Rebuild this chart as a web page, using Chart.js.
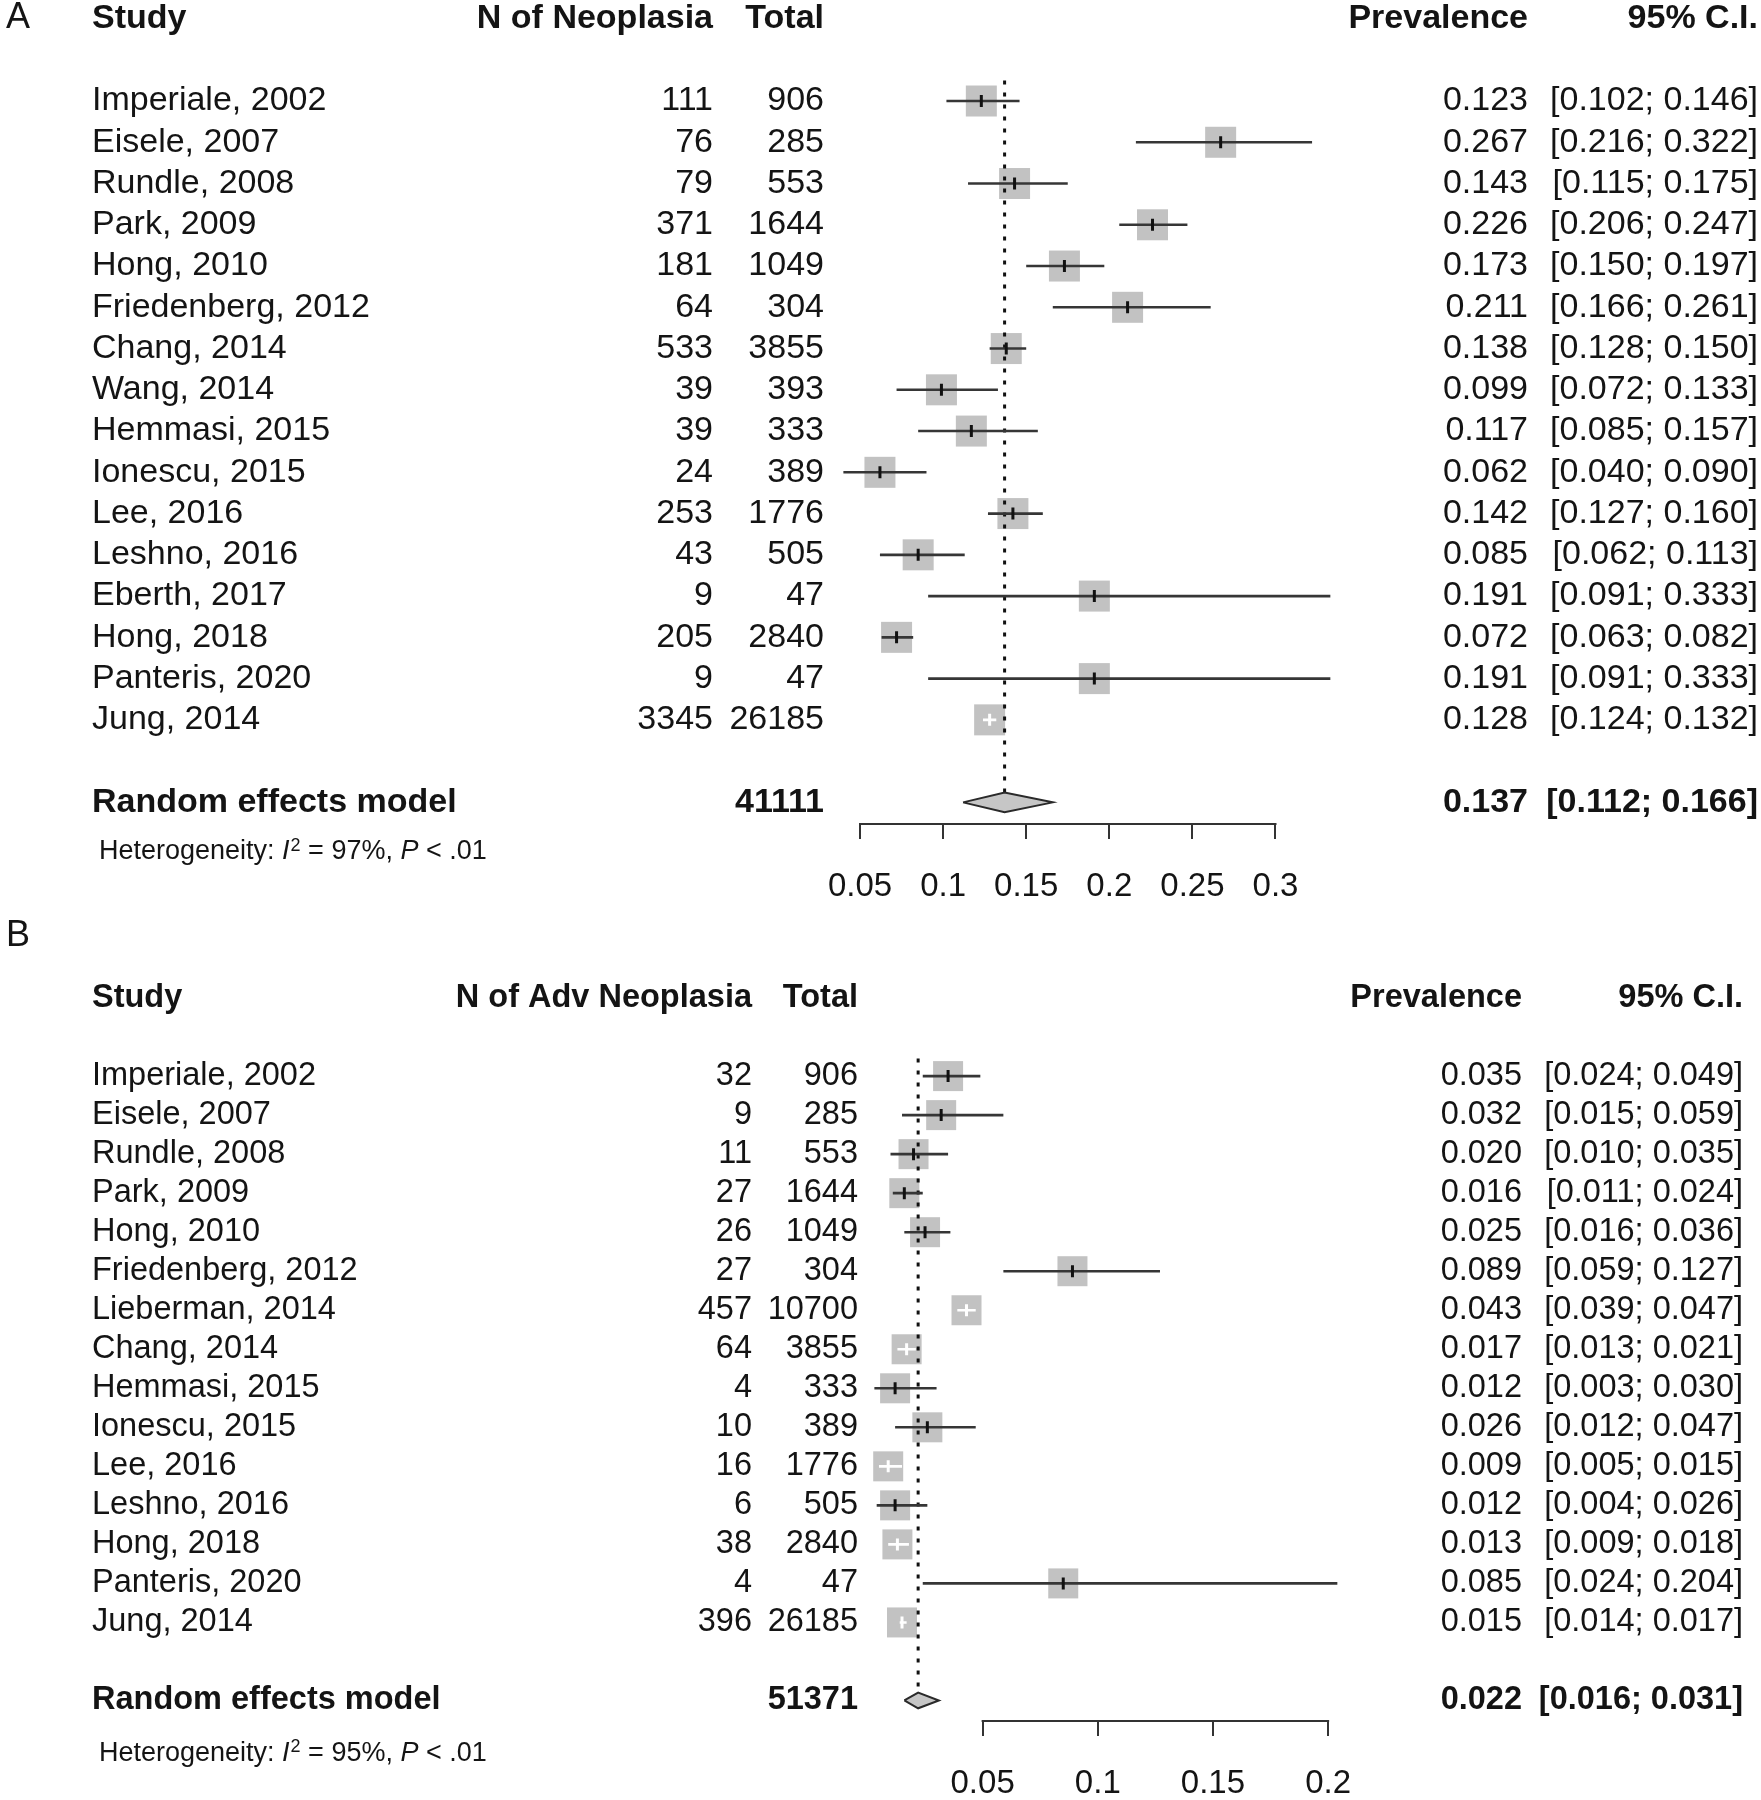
<!DOCTYPE html>
<html>
<head>
<meta charset="utf-8">
<script src="https://cdn.jsdelivr.net/npm/chart.js@4.4.1/dist/chart.umd.min.js"></script>
<style>
  body { margin: 0; background: #fff; }
  canvas { display: block; }
</style>
</head>
<body>
<canvas id="panel-a" width="1761" height="920"></canvas>
<canvas id="panel-b" width="1761" height="880"></canvas>
<script>
// Panel A - any neoplasia
const studiesA = ['Imperiale, 2002', 'Eisele, 2007', 'Rundle, 2008', 'Park, 2009', 'Hong, 2010',
  'Friedenberg, 2012', 'Chang, 2014', 'Wang, 2014', 'Hemmasi, 2015', 'Ionescu, 2015', 'Lee, 2016',
  'Leshno, 2016', 'Eberth, 2017', 'Hong, 2018', 'Panteris, 2020', 'Jung, 2014'];
const eventsA = [111, 76, 79, 371, 181, 64, 533, 39, 39, 24, 253, 43, 9, 205, 9, 3345];
const totalsA = [906, 285, 553, 1644, 1049, 304, 3855, 393, 333, 389, 1776, 505, 47, 2840, 47, 26185];
const prevA = [0.123, 0.267, 0.143, 0.226, 0.173, 0.211, 0.138, 0.099, 0.117, 0.062, 0.142, 0.085, 0.191, 0.072, 0.191, 0.128];
const lowerA = [0.102, 0.216, 0.115, 0.206, 0.150, 0.166, 0.128, 0.072, 0.085, 0.040, 0.127, 0.062, 0.091, 0.063, 0.091, 0.124];
const upperA = [0.146, 0.322, 0.175, 0.247, 0.197, 0.261, 0.150, 0.133, 0.157, 0.090, 0.160, 0.113, 0.333, 0.082, 0.333, 0.132];
const pooledA = [0.137, 0.112, 0.166]; // estimate, lower, upper
const pooledTotalA = 41111;
const i2A = 97;
const ticksA = [0.05, 0.1, 0.15, 0.2, 0.25, 0.3];

// Panel B - advanced neoplasia
const studiesB = ['Imperiale, 2002', 'Eisele, 2007', 'Rundle, 2008', 'Park, 2009', 'Hong, 2010',
  'Friedenberg, 2012', 'Lieberman, 2014', 'Chang, 2014', 'Hemmasi, 2015', 'Ionescu, 2015', 'Lee, 2016',
  'Leshno, 2016', 'Hong, 2018', 'Panteris, 2020', 'Jung, 2014'];
const eventsB = [32, 9, 11, 27, 26, 27, 457, 64, 4, 10, 16, 6, 38, 4, 396];
const totalsB = [906, 285, 553, 1644, 1049, 304, 10700, 3855, 333, 389, 1776, 505, 2840, 47, 26185];
const prevB = [0.035, 0.032, 0.020, 0.016, 0.025, 0.089, 0.043, 0.017, 0.012, 0.026, 0.009, 0.012, 0.013, 0.085, 0.015];
const lowerB = [0.024, 0.015, 0.010, 0.011, 0.016, 0.059, 0.039, 0.013, 0.003, 0.012, 0.005, 0.004, 0.009, 0.024, 0.014];
const upperB = [0.049, 0.059, 0.035, 0.024, 0.036, 0.127, 0.047, 0.021, 0.030, 0.047, 0.015, 0.026, 0.018, 0.204, 0.017];
const pooledB = [0.022, 0.016, 0.031];
const pooledTotalB = 51371;
const i2B = 95;
const ticksB = [0.05, 0.1, 0.15, 0.2];

const FONT = '"Liberation Sans", Arial, Helvetica, sans-serif';
const INK = '#141414';

function drawHet(ctx, x, y, pct) {
  const f = 27;
  ctx.textAlign = 'left';
  ctx.textBaseline = 'middle';
  const put = (txt, font, dy) => {
    ctx.font = font;
    ctx.fillText(txt, x, y + (dy || 0));
    x += ctx.measureText(txt).width;
  };
  put('Heterogeneity: ', `${f}px ${FONT}`);
  put('I', `italic ${f}px ${FONT}`);
  x += 1;
  put('2', `${Math.round(f * 0.68)}px ${FONT}`, -f * 0.22);
  put(' = ' + pct + '%, ', `${f}px ${FONT}`);
  put('P', `italic ${f}px ${FONT}`);
  put(' < .01', `${f}px ${FONT}`);
}

function forestChart(id, p) {
  const rows = p.studies.map((s, i) => i + 1);
  const half = p.box / 2;
  // meta draws the CI in white when it fits inside the box
  const inBox = (chart, i) => {
    const x = chart.scales.x;
    const c = x.getPixelForValue(p.prev[i]);
    return x.getPixelForValue(p.lo[i]) >= c - half && x.getPixelForValue(p.hi[i]) <= c + half;
  };

  const ciSets = p.studies.map((s, i) => ({
    type: 'line',
    data: [{ x: p.lo[i], y: rows[i] }, { x: p.hi[i], y: rows[i] }],
    borderColor: ctx => inBox(ctx.chart, i) ? '#ffffff' : '#363636',
    borderWidth: 2.6,
    pointRadius: 0,
    order: 3
  }));

  const [est, plo, phi] = p.pooled;
  const r = p.pooledRow;
  const datasets = [
    {
      type: 'scatter',
      data: p.prev.map((v, i) => ({ x: v, y: rows[i] })),
      pointStyle: 'rect',
      pointRadius: p.box / (2 * Math.SQRT1_2),
      backgroundColor: '#c2c2c2',
      borderWidth: 0,
      clip: false,
      order: 5
    },
    {
      type: 'line',
      data: [{ x: est, y: p.refTop }, { x: est, y: r - p.dh }],
      borderColor: '#111',
      borderWidth: 3,
      borderDash: [4, 8],
      pointRadius: 0,
      order: 4
    },
    ...ciSets,
    {
      type: 'line',
      data: [{ x: plo, y: r }, { x: est, y: r - p.dh }, { x: phi, y: r }, { x: est, y: r + p.dh }, { x: plo, y: r }],
      fill: 'shape',
      backgroundColor: '#c6c6c6',
      borderColor: '#2a2a2a',
      borderWidth: 2,
      pointRadius: 0,
      tension: 0,
      order: 2
    },
    {
      type: 'scatter',
      data: p.prev.map((v, i) => ({ x: v, y: rows[i] })),
      pointStyle: 'line',
      rotation: 90,
      pointRadius: 6,
      borderWidth: 3,
      pointBorderColor: ctx => inBox(ctx.chart, ctx.dataIndex) ? '#ffffff' : '#111111',
      order: 1
    }
  ];

  const textPlugin = {
    id: 'forestText',
    afterDraw(chart) {
      const ctx = chart.ctx;
      const y = chart.scales.y;
      const x = chart.scales.x;
      ctx.save();
      // axis line only between first and last tick
      ctx.strokeStyle = '#333';
      ctx.lineWidth = 2;
      ctx.beginPath();
      ctx.moveTo(x.getPixelForValue(p.ticks[0]) - 1, chart.chartArea.bottom + 1);
      ctx.lineTo(x.getPixelForValue(p.ticks[p.ticks.length - 1]) + 1, chart.chartArea.bottom + 1);
      ctx.stroke();

      ctx.fillStyle = INK;
      ctx.textBaseline = 'middle';
      ctx.textAlign = 'left';
      ctx.font = `36px ${FONT}`;
      ctx.fillText(p.letter, 6, y.getPixelForValue(p.letterRow));

      const fs = p.fontSize;
      const cols = p.cols;
      const bold = `bold ${fs}px ${FONT}`;
      const norm = `${fs}px ${FONT}`;
      const hy = y.getPixelForValue(-1);
      ctx.font = bold;
      ctx.textAlign = 'left';
      ctx.fillText('Study', cols.study, hy);
      ctx.textAlign = 'right';
      ctx.fillText(p.eventLabel, cols.events, hy);
      ctx.fillText('Total', cols.total, hy);
      ctx.fillText('Prevalence', cols.prev, hy);
      ctx.fillText('95% C.I.', cols.ci, hy);

      ctx.font = norm;
      p.studies.forEach((s, i) => {
        const ry = y.getPixelForValue(rows[i]);
        ctx.textAlign = 'left';
        ctx.fillText(s, cols.study, ry);
        ctx.textAlign = 'right';
        ctx.fillText(String(p.events[i]), cols.events, ry);
        ctx.fillText(String(p.totals[i]), cols.total, ry);
        ctx.fillText(p.prev[i].toFixed(3), cols.prev, ry);
        ctx.fillText(`[${p.lo[i].toFixed(3)}; ${p.hi[i].toFixed(3)}]`, cols.ci, ry);
      });

      const py = y.getPixelForValue(r);
      ctx.font = bold;
      ctx.textAlign = 'left';
      ctx.fillText('Random effects model', cols.study, py);
      ctx.textAlign = 'right';
      ctx.fillText(String(p.pooledTotal), cols.total, py);
      ctx.fillText(est.toFixed(3), cols.prev, py);
      ctx.fillText(`[${plo.toFixed(3)}; ${phi.toFixed(3)}]`, cols.ci, py);

      drawHet(ctx, 99, y.getPixelForValue(p.hetRow), p.i2);
      ctx.restore();
    }
  };

  return new Chart(document.getElementById(id), {
    type: 'scatter',
    data: { datasets },
    options: {
      responsive: false,
      animation: false,
      events: [],
      layout: { padding: p.padding, autoPadding: false },
      plugins: { legend: { display: false }, tooltip: { enabled: false } },
      scales: {
        x: {
          type: 'linear',
          min: p.xMin,
          max: p.xMax,
          afterBuildTicks: ax => { ax.ticks = p.ticks.map(v => ({ value: v })); },
          afterFit: ax => { ax.height = p.axisH; },
          ticks: {
            callback: v => String(v),
            font: { size: 33, family: FONT },
            color: INK,
            padding: 28,
            maxRotation: 0,
            autoSkip: false
          },
          grid: { drawOnChartArea: false, drawTicks: true, tickLength: 16, color: '#333', lineWidth: 2 },
          border: { display: false }
        },
        y: { type: 'linear', reverse: true, min: p.yMin, max: p.yMax, display: false }
      }
    },
    plugins: [textPlugin]
  });
}

forestChart('panel-a', {
  letter: 'A', letterRow: -1, eventLabel: 'N of Neoplasia',
  studies: studiesA, events: eventsA, totals: totalsA, prev: prevA, lo: lowerA, hi: upperA,
  pooled: pooledA, pooledTotal: pooledTotalA, i2: i2A, ticks: ticksA,
  pooledRow: 18, hetRow: 19.2, refTop: 0.5, dh: 0.24, box: 31,
  xMin: 0, xMax: 0.4, yMin: -1.4, yMax: 18.5, axisH: 97,
  padding: { left: 776.9, right: 319.3, top: 2, bottom: 0 },
  fontSize: 34,
  cols: { study: 92, events: 713, total: 824, prev: 1528, ci: 1758 }
});

forestChart('panel-b', {
  letter: 'B', letterRow: -2.59, eventLabel: 'N of Adv Neoplasia',
  studies: studiesB, events: eventsB, totals: totalsB, prev: prevB, lo: lowerB, hi: upperB,
  pooled: pooledB, pooledTotal: pooledTotalB, i2: i2B, ticks: ticksB,
  pooledRow: 17, hetRow: 18.35, refTop: 0.55, dh: 0.2, box: 30,
  xMin: -0.02, xMax: 0.25, yMin: -3, yMax: 17.5, axisH: 80,
  padding: { left: 821.4, right: 317.7, top: 0, bottom: 0 },
  fontSize: 32.5,
  cols: { study: 92, events: 752, total: 858, prev: 1522, ci: 1743 }
});
</script>
</body>
</html>
